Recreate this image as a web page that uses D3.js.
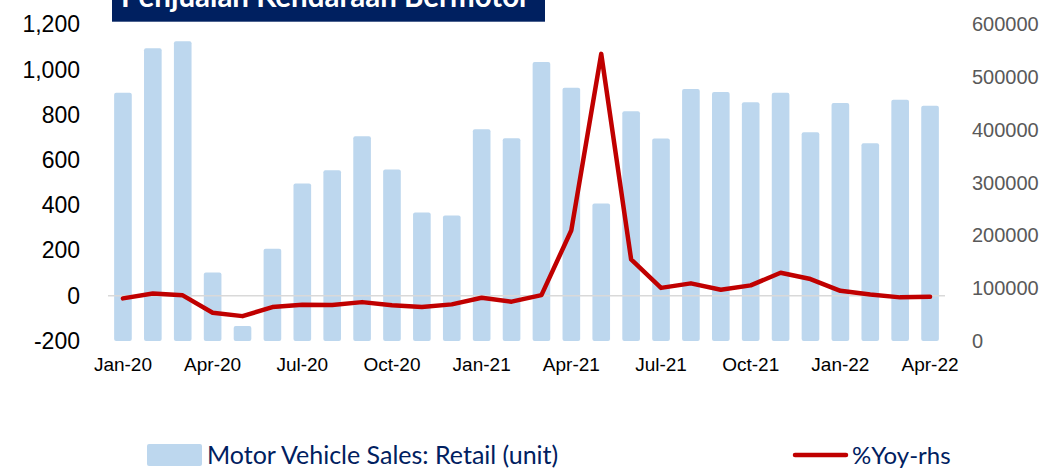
<!DOCTYPE html>
<html>
<head>
<meta charset="utf-8">
<script src="https://cdnjs.cloudflare.com/ajax/libs/d3/7.8.5/d3.min.js"></script>
<style>
	html, body { margin: 0; padding: 0; background: #fff; }
	svg { display: block; font-family: Lato, "Open Sans", sans-serif; }
</style>
</head>
<body>
<svg id="chart" width="1045" height="468"></svg>
<script>

	var
		months = ['Jan-20','Feb-20','Mar-20','Apr-20','May-20','Jun-20','Jul-20','Aug-20','Sep-20','Oct-20','Nov-20','Dec-20',
			'Jan-21','Feb-21','Mar-21','Apr-21','May-21','Jun-21','Jul-21','Aug-21','Sep-21','Oct-21','Nov-21','Dec-21',
			'Jan-22','Feb-22','Mar-22','Apr-22'],

		// bars, read against the right axis
		salesUnits = [470700, 555200, 568400, 130000, 28400, 174700, 298500, 323700, 388000, 325000, 243600, 237900,
			401300, 384300, 528700, 480200, 260600, 435400, 383700, 477600, 471900, 452400, 470700, 395600,
			451100, 374800, 457500, 446100],

		// line, read against the left axis
		yoyPct = [-11.5, 10, 2, -75, -90, -50, -40, -41, -28, -42, -50, -38,
			-9, -26, 3, 290, 1070, 161, 35, 55, 27, 46, 102, 74,
			22, 6, -7, -4],

		leftTicks = [-200, 0, 200, 400, 600, 800, 1000, 1200],
		rightTicks = [0, 100000, 200000, 300000, 400000, 500000, 600000],
		xTickLabels = ['Jan-20','Apr-20','Jul-20','Oct-20','Jan-21','Apr-21','Jul-21','Oct-21','Jan-22','Apr-22'],

		titleText = 'Penjualan Kendaraan Bermotor',
		legendBars = 'Motor Vehicle Sales: Retail (unit)',
		legendLine = '%Yoy-rhs';

	var
		svg = d3.select('#chart'),
		plot = {left: 108, right: 945, top: 24.5, bottom: 341},
		navy = '#002060',
		red = '#C00000',
		barBlue = '#BDD7EE';

	var
		x = d3.scaleBand().domain(months).range([plot.left, plot.right]).paddingInner(0.41).paddingOuter(0.205),
		yLeft = d3.scaleLinear().domain([-200, 1200]).range([plot.bottom, plot.top]),
		yRight = d3.scaleLinear().domain([0, 600000]).range([plot.bottom, plot.top]);

	// excel style: plain hyphen for negatives
	var commaFmt = d3.format(',')
	function leftFormat(d) { return commaFmt(d).replace('\u2212', '-') }

	// bars
	svg.append('g').selectAll('rect')
		.data(months)
		.enter()
		.append('rect')
		.attr('x', function(d){ return x(d) })
		.attr('width', x.bandwidth())
		.attr('y', function(d, i){ return yRight(salesUnits[i]) })
		.attr('height', function(d, i){ return yRight(0) - yRight(salesUnits[i]) })
		.attr('rx', 2)
		.attr('fill', barBlue)

	// zero line of the left axis
	svg.append('line')
		.attr('x1', plot.left).attr('x2', plot.right)
		.attr('y1', yLeft(0)).attr('y2', yLeft(0))
		.attr('stroke', '#D9D9D9')
		.attr('stroke-width', 1.5)

	// yoy line
	var line = d3.line()
		.x(function(d, i){ return x(months[i]) + x.bandwidth()/2 })
		.y(function(d){ return yLeft(d) })

	svg.append('path')
		.datum(yoyPct)
		.attr('d', line)
		.attr('fill', 'none')
		.attr('stroke', red)
		.attr('stroke-width', 4.5)
		.attr('stroke-linejoin', 'round')
		.attr('stroke-linecap', 'round')

	// left axis
	var leftAxis = d3.axisLeft(yLeft).tickValues(leftTicks).tickSize(0).tickPadding(0).tickFormat(leftFormat)
	var gl = svg.append('g').attr('transform', 'translate(80,0)').call(leftAxis)
	gl.select('.domain').remove()
	gl.selectAll('text').attr('font-size', 23).attr('fill', '#000').attr('font-family', null)

	// right axis
	var rightAxis = d3.axisRight(yRight).tickValues(rightTicks).tickSize(0).tickPadding(0).tickFormat(d3.format('d'))
	var gr = svg.append('g').attr('transform', 'translate(972,0)').call(rightAxis)
	gr.select('.domain').remove()
	gr.selectAll('text').attr('font-size', 20).attr('fill', '#595959').attr('font-family', null)

	// bottom axis, every third month
	var bottomAxis = d3.axisBottom(x).tickValues(xTickLabels).tickSize(0).tickPadding(0)
	var gb = svg.append('g').attr('transform', 'translate(0,357)').call(bottomAxis)
	gb.select('.domain').remove()
	gb.selectAll('text').attr('font-size', 19).attr('fill', '#000').attr('font-family', null)

	// title box, cut at the top edge like the source
	svg.append('rect')
		.attr('x', 112).attr('y', -10)
		.attr('width', 433).attr('height', 31.7)
		.attr('fill', navy)
	svg.append('text')
		.attr('x', 121).attr('y', 7)
		.attr('font-size', 29.5)
		.attr('font-weight', 'bold')
		.attr('fill', '#fff')
		.text(titleText)

	// legend
	var legend = svg.append('g')
	legend.append('rect')
		.attr('x', 147).attr('y', 444).attr('width', 55).attr('height', 22)
		.attr('rx', 2)
		.attr('fill', barBlue)
	legend.append('text')
		.attr('x', 207).attr('y', 464)
		.attr('font-size', 25)
		.attr('fill', navy)
		.text(legendBars)
	legend.append('line')
		.attr('x1', 795).attr('x2', 846).attr('y1', 455).attr('y2', 455)
		.attr('stroke', red).attr('stroke-width', 4.5).attr('stroke-linecap', 'round')
	legend.append('text')
		.attr('x', 852).attr('y', 464)
		.attr('font-size', 24)
		.attr('fill', navy)
		.text(legendLine)

</script>
</body>
</html>
